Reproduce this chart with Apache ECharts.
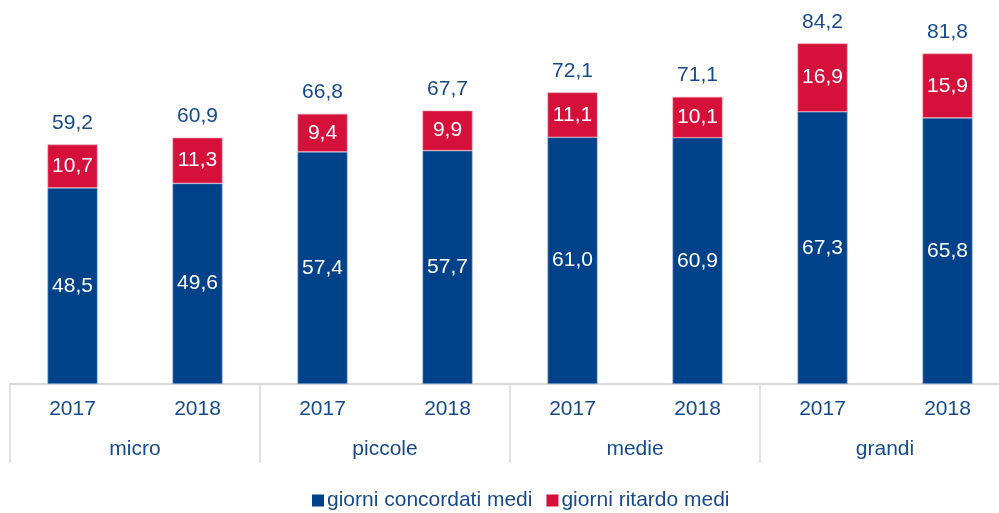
<!DOCTYPE html>
<html>
<head>
<meta charset="utf-8">
<script src="https://cdn.jsdelivr.net/npm/echarts@6/dist/echarts.min.js"></script>
<style>
  html, body { margin: 0; padding: 0; background: #fff; }
  #myBar { width: 999px; height: 513px; }
</style>
</head>
<body>
<div id="myBar"></div>
<script>
// dati
const anni = ["2017", "2018", "2017", "2018", "2017", "2018", "2017", "2018"];
const classi = ["micro", "piccole", "medie", "grandi"];
const concordati = [48.5, 49.6, 57.4, 57.7, 61.0, 60.9, 67.3, 65.8];
const ritardo = [10.7, 11.3, 9.4, 9.9, 11.1, 10.1, 16.9, 15.9];
const totali = [59.2, 60.9, 66.8, 67.7, 72.1, 71.1, 84.2, 81.8];

const blu = "#00428a";
const rosso = "#d4103b";
const testo = "#174a8b";
const grigio = "#d9d9d9";
const font = "Liberation Sans, Arial, sans-serif";
const fs = 21;

function virgola(v) {
  return v.toFixed(1).replace(".", ",");
}

let myBar = echarts.init(document.querySelector("#myBar"));
let option = {
  backgroundColor: "#fff",
  animation: false,
  textStyle: { fontFamily: font },
  grid: {
    left: 10,
    width: 1000,
    top: 20,
    height: 364,
    outerBoundsMode: "none"
  },
  legend: {
    data: ["giorni concordati medi", "giorni ritardo medi"],
    left: 307,
    top: 485,
    icon: "rect",
    itemWidth: 12,
    itemHeight: 12,
    itemGap: 14,
    itemStyle: { borderWidth: 0 },
    textStyle: { color: testo, fontSize: fs, fontFamily: font, padding: [0, 0, 0, -2] }
  },
  xAxis: [
    {
      type: "category",
      data: anni,
      axisLine: { lineStyle: { color: grigio, width: 2 } },
      axisTick: { show: false },
      axisLabel: { color: testo, fontSize: fs, fontFamily: font, margin: 15 }
    },
    {
      type: "category",
      data: classi,
      position: "bottom",
      axisLine: { show: false },
      axisTick: {
        show: true,
        length: 79,
        lineStyle: { color: grigio, width: 1.5 }
      },
      axisLabel: { color: testo, fontSize: fs, fontFamily: font, margin: 55 }
    }
  ],
  yAxis: {
    type: "value",
    min: 0,
    max: 90,
    show: false,
    splitLine: { show: false }
  },
  series: [
    {
      name: "giorni concordati medi",
      type: "bar",
      stack: "tot",
      barWidth: 50,
      data: concordati,
      itemStyle: { color: blu, borderColor: "#8eaad0", borderWidth: 0.6 },
      label: {
        show: true,
        position: "inside",
        color: "#fff",
        fontSize: fs,
        fontFamily: font,
        formatter: p => virgola(p.value)
      }
    },
    {
      name: "giorni ritardo medi",
      type: "bar",
      stack: "tot",
      barWidth: 50,
      data: ritardo,
      itemStyle: { color: rosso, borderColor: "#f0a0b0", borderWidth: 0.6 },
      label: {
        show: true,
        position: "inside",
        color: "#fff",
        fontSize: fs,
        fontFamily: font,
        formatter: p => virgola(p.value)
      }
    },
    {
      // solo per l'etichetta del totale
      name: "totale",
      type: "bar",
      stack: "tot",
      barWidth: 50,
      data: totali.map(() => 0),
      itemStyle: { color: "transparent" },
      label: {
        show: true,
        position: "top",
        distance: 11,
        color: testo,
        fontSize: fs,
        fontFamily: font,
        formatter: p => virgola(totali[p.dataIndex])
      }
    }
  ]
};
myBar.setOption(option);
</script>
</body>
</html>
